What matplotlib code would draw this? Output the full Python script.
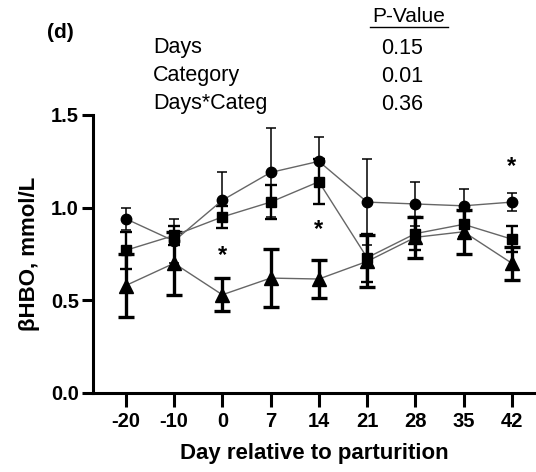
import numpy as np
import matplotlib
matplotlib.use("Agg")
import matplotlib.pyplot as plt

plt.rcParams["font.family"] = ["Liberation Sans", "DejaVu Sans"]

days = ["-20", "-10", "0", "7", "14", "21", "28", "35", "42"]

# three groups, mean and SEM (mmol/L)
circ_mean = [0.94, 0.82, 1.04, 1.19, 1.25, 1.03, 1.02, 1.01, 1.03]
circ_sem = [0.06, 0.12, 0.15, 0.24, 0.13, 0.23, 0.12, 0.09, 0.05]
sq_mean = [0.77, 0.85, 0.95, 1.03, 1.14, 0.73, 0.86, 0.91, 0.83]
sq_sem = [0.10, 0.05, 0.06, 0.09, 0.12, 0.13, 0.09, 0.07, 0.07]
tri_mean = [0.58, 0.70, 0.53, 0.62, 0.615, 0.71, 0.84, 0.87, 0.70]
tri_sem = [0.17, 0.17, 0.09, 0.155, 0.105, 0.14, 0.11, 0.12, 0.09]

# significance stars (day index, height)
star_idx = [2, 4, 8]
star_y = [0.74, 0.88, 1.22]

effects = ["Days", "Category", "Days*Categ"]
pvals = ["0.15", "0.01", "0.36"]

W, H = 536, 472
fig = plt.figure(figsize=(W / 100, H / 100), dpi=100)
ax = fig.add_axes([93 / W, 1 - 393 / H, 1 - 93 / W, (393 - 115) / H])

x = np.arange(len(days))

series = [
    (circ_mean, circ_sem, "o", 7.5, 1.1, 3.5),
    (sq_mean, sq_sem, "s", 7.5, 1.7, 4.5),
    (tri_mean, tri_sem, "^", 9.5, 2.4, 6),
]
for mean, sem, mk, ms, elw, cs in series:
    ax.errorbar(x, mean, yerr=sem, fmt="none", ecolor="black", elinewidth=elw,
                capsize=cs, capthick=elw, zorder=2)
    ax.plot(x, mean, color="#666666", lw=1.0, zorder=3)
    ax.plot(x, mean, ls="none", marker=mk, ms=ms, color="black", zorder=4)

for i, yv in zip(star_idx, star_y):
    ax.text(x[i], yv, "*", ha="center", va="center", fontsize=17, fontweight="bold")

ax.set_xlim(-0.68, 8.5)
ax.set_ylim(0, 1.5)
ax.set_yticks([0, 0.5, 1.0, 1.5])
ax.set_yticklabels(["0.0", "0.5", "1.0", "1.5"])
ax.set_xticks(x)
ax.set_xticklabels(days)
for lab in ax.get_xticklabels() + ax.get_yticklabels():
    lab.set_fontweight("bold")
    lab.set_fontsize(14.5)
ax.tick_params(axis="x", length=10, width=2.2, pad=4)
ax.tick_params(axis="y", length=8, width=2.2, pad=2)
for s in ["top", "right"]:
    ax.spines[s].set_visible(False)
for s in ["left", "bottom"]:
    ax.spines[s].set_linewidth(2.2)
ax.spines["left"].set_bounds(0, 1.5)
ax.patch.set_alpha(0)

ax.set_xlabel("Day relative to parturition", fontsize=16, fontweight="bold", labelpad=8)
ax.set_ylabel("βHBO, mmol/L", fontsize=16, fontweight="bold", labelpad=8)

# header text
fig.text(47 / W, 1 - 33 / H, "(d)", fontsize=15, fontweight="bold", va="center")
pv = fig.text(409 / W, 1 - 17 / H, "P-Value", fontsize=15, ha="center", va="center")
fig.add_artist(plt.Line2D([370 / W, 448 / W], [1 - 27 / H, 1 - 27 / H], color="black", lw=1.0))
for k, (e, p) in enumerate(zip(effects, pvals)):
    yy = 1 - (48 + 28 * k) / H
    fig.text(153 / W, yy, e, fontsize=15.5, va="center")
    fig.text(402 / W, yy, p, fontsize=15.5, va="center", ha="center")

fig.savefig("out.png", dpi=100)
